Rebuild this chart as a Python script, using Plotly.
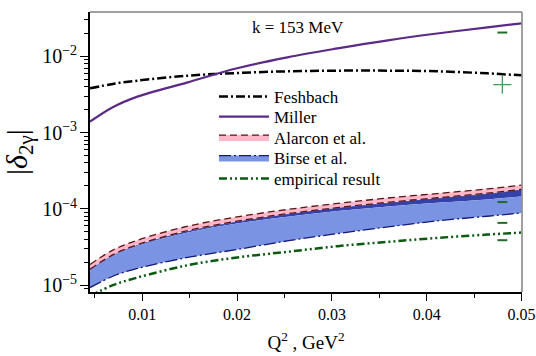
import plotly.graph_objects as go

# ---- data ----
q2 = [0.0045, 0.0069, 0.0095, 0.0148, 0.0200, 0.0253, 0.0306, 0.0359, 0.0411, 0.0464, 0.0500]

feshbach = [3.81e-3, 4.35e-3, 4.8e-3, 5.58e-3, 6.04e-3, 6.36e-3, 6.49e-3, 6.49e-3, 6.36e-3, 5.98e-3, 5.63e-3]
miller = [1.39e-3, 2.15e-3, 2.96e-3, 4.56e-3, 6.97e-3, 9.7e-3, 1.27e-2, 1.62e-2, 1.99e-2, 2.40e-2, 2.71e-2]

alarcon_up = [1.87e-5, 2.88e-5, 3.89e-5, 5.93e-5, 7.86e-5, 9.82e-5, 1.18e-4, 1.39e-4, 1.59e-4, 1.83e-4, 2.05e-4]
alarcon_lo = [1.62e-5, 2.50e-5, 3.40e-5, 5.20e-5, 6.90e-5, 8.65e-5, 1.04e-4, 1.22e-4, 1.40e-4, 1.61e-4, 1.81e-4]

birse_up = [1.58e-5, 2.45e-5, 3.32e-5, 5.05e-5, 6.75e-5, 8.45e-5, 1.02e-4, 1.19e-4, 1.37e-4, 1.57e-4, 1.77e-4]
birse_mid = [1.58e-5, 2.45e-5, 3.29e-5, 4.90e-5, 6.43e-5, 7.90e-5, 9.36e-5, 1.077e-4, 1.20e-4, 1.33e-4, 1.45e-4]
birse_lo = [9.3e-6, 1.31e-5, 1.66e-5, 2.31e-5, 2.94e-5, 3.81e-5, 4.75e-5, 5.81e-5, 6.97e-5, 8.02e-5, 8.87e-5]

empirical = [7.2e-6, 1.0e-5, 1.26e-5, 1.83e-5, 2.31e-5, 2.74e-5, 3.25e-5, 3.70e-5, 4.17e-5, 4.61e-5, 4.90e-5]

point_x = [0.04797]
point_dash_vals = [2.05e-2, 1.23e-4, 6.56e-5, 3.89e-5]
point_plus_vals = [4.25e-3]

x_ticks = [0.01, 0.02, 0.03, 0.04, 0.05]
x_ticktext = ["0.01", "0.02", "0.03", "0.04", "0.05"]

FONT = "Liberation Serif"

fig = go.Figure()

fig.add_trace(go.Scatter(x=q2, y=feshbach, mode="lines", name="Feshbach", line_shape="spline",
                         line=dict(color="black", width=2.5, dash="9px,3px,2px,3px"), legend="legend"))
fig.add_trace(go.Scatter(x=q2, y=miller, mode="lines", name="Miller", line_shape="spline",
                         line=dict(color="#5b2a86", width=2.2), legend="legend2"))

# Birse band (dark strip on top, light band below)
fig.add_trace(go.Scatter(x=q2, y=birse_mid, mode="lines", line_shape="spline",
                         line=dict(width=0, color="#3441a8"), showlegend=False, hoverinfo="skip"))
fig.add_trace(go.Scatter(x=q2, y=birse_up, mode="lines", line_shape="spline", fill="tonexty",
                         fillcolor="#3441a8", line=dict(width=0.8, color="#2b3aa0"),
                         showlegend=False, hoverinfo="skip"))
fig.add_trace(go.Scatter(x=q2, y=birse_mid, mode="lines", line_shape="spline",
                         line=dict(width=0, color="#7b93e3"), showlegend=False, hoverinfo="skip"))
fig.add_trace(go.Scatter(x=q2, y=birse_lo, mode="lines", line_shape="spline", fill="tonexty",
                         fillcolor="#7b93e3", name="Birse et al.",
                         line=dict(color="#141a78", width=1.3, dash="12px,3px,2px,3px"), legend="legend4"))

# Alarcon band
fig.add_trace(go.Scatter(x=q2, y=alarcon_lo, mode="lines", line_shape="spline",
                         line=dict(color="#5a1414", width=1.3, dash="7px,4px"),
                         showlegend=False, hoverinfo="skip"))
fig.add_trace(go.Scatter(x=q2, y=alarcon_up, mode="lines", line_shape="spline", fill="tonexty",
                         fillcolor="#ffb6c8", name="Alarcon et al.",
                         line=dict(color="#5a1414", width=1.3, dash="7px,4px"), legend="legend3"))

fig.add_trace(go.Scatter(x=q2, y=empirical, mode="lines", name="empirical result", line_shape="spline",
                         line=dict(color="#0b5a12", width=2.5, dash="8px,3px,2px,3px,2px,3px"),
                         legend="legend5"))

# data points at the right
fig.add_trace(go.Scatter(x=point_x * len(point_dash_vals), y=point_dash_vals, mode="markers",
                         marker=dict(symbol="line-ew", size=7, line=dict(color="#1f6b2a", width=2)),
                         showlegend=False))
fig.add_trace(go.Scatter(x=point_x * len(point_plus_vals), y=point_plus_vals, mode="markers",
                         marker=dict(symbol="cross-thin", size=13, line=dict(color="#4a9a55", width=1.3)),
                         showlegend=False))

fig.add_annotation(x=0.5 * (0.0045 + 0.05) - 0.0008, y=-1.624, xref="x", yref="y",
                   text="k = 153 MeV", showarrow=False, font=dict(family=FONT, size=17, color="black"))


def leg(ypx):
    return dict(x=0.287, y=(292 - ypx) / 280, xanchor="left", yanchor="middle",
                bgcolor="rgba(0,0,0,0)", font=dict(family=FONT, size=17, color="black"),
                itemwidth=50, traceorder="normal")


fig.update_layout(
    width=536, height=356,
    margin=dict(l=90, r=14, t=12, b=64),
    paper_bgcolor="white", plot_bgcolor="white",
    font=dict(family=FONT, size=16, color="black"),
    showlegend=True,
    legend=leg(97), legend2=leg(117), legend3=leg(137.5), legend4=leg(158), legend5=leg(179),
    shapes=[
        dict(type="line", xref="paper", yref="paper", x0=0, x1=1, y0=1, y1=1,
             line=dict(color="#808080", width=1.5)),
        dict(type="line", xref="paper", yref="paper", x0=1, x1=1, y0=0, y1=1,
             line=dict(color="#808080", width=1.5)),
    ],
)

fig.update_xaxes(
    range=[0.0045, 0.05004], showgrid=False, zeroline=False, automargin=False,
    showline=True, linecolor="black", linewidth=1.5,
    tickmode="array", tickvals=x_ticks, ticktext=x_ticktext,
    ticks="outside", ticklen=7, tickwidth=1, tickcolor="black",
    minor=dict(ticks="outside", ticklen=4, tickwidth=1, tickcolor="black",
               tickmode="linear", tick0=0.005, dtick=0.01),
    tickfont=dict(family=FONT, size=16, color="black"),
    title=dict(text="Q<sup>2</sup> , GeV<sup>2</sup>", font=dict(family=FONT, size=19, color="black"),
               standoff=14),
)

fig.update_yaxes(
    type="log", range=[-5.089, -1.419], showgrid=False, zeroline=False, automargin=False,
    showline=True, linecolor="black", linewidth=1.5,
    dtick=1, exponentformat="power",
    ticks="outside", ticklen=8, tickwidth=1, tickcolor="black",
    minor=dict(ticks="outside", ticklen=4, tickwidth=1, tickcolor="black", dtick="D1"),
    tickfont=dict(family=FONT, size=16, color="black"),
    title=dict(text="|<i>δ</i><sub>2γ</sub>|", font=dict(family=FONT, size=30, color="black"),
               standoff=10),
)

fig.write_html("out.html", config={"displayModeBar": False},
               post_script="document.body.style.margin='0';")
